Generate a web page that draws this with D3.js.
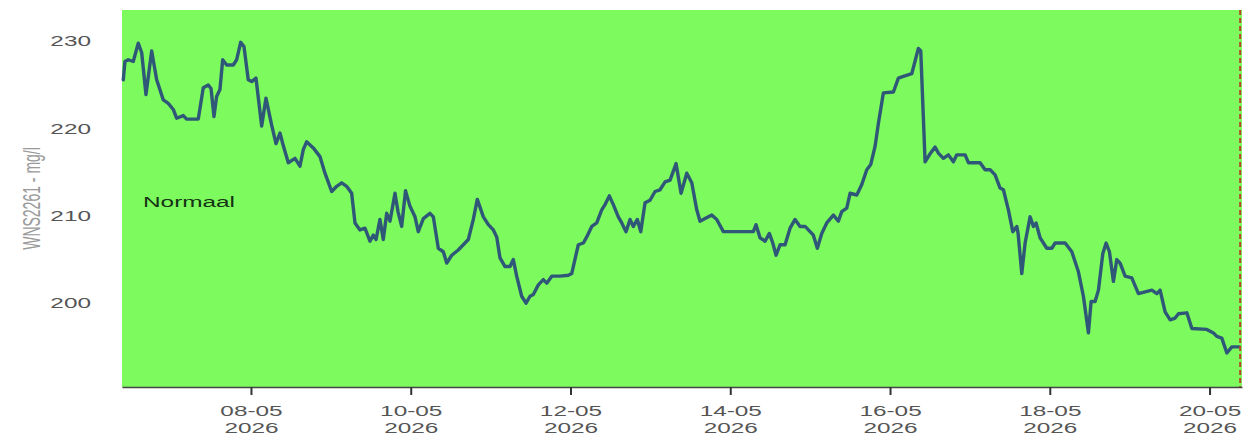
<!DOCTYPE html>
<html>
<head>
<meta charset="utf-8">
<script src="https://cdn.jsdelivr.net/npm/d3@7"></script>
<style>
  html, body { margin: 0; padding: 0; background: #ffffff; }
  svg { display: block; font-family: "Liberation Sans", Arial, sans-serif; }
</style>
</head>
<body>
<svg id="chart" width="1256" height="437"></svg>
<script>
// ---- data ----
const times = [
  "2026-05-06T09:38","2026-05-06T10:08","2026-05-06T11:08","2026-05-06T12:38","2026-05-06T14:08","2026-05-06T15:10",
  "2026-05-06T16:27","2026-05-06T18:10","2026-05-06T19:40","2026-05-06T21:39","2026-05-06T23:09","2026-05-07T00:39",
  "2026-05-07T01:40","2026-05-07T03:40","2026-05-07T04:41","2026-05-07T08:10","2026-05-07T09:40","2026-05-07T11:10",
  "2026-05-07T12:00","2026-05-07T12:53","2026-05-07T13:41","2026-05-07T14:41","2026-05-07T15:30","2026-05-07T16:42",
  "2026-05-07T18:41","2026-05-07T19:42","2026-05-07T20:54","2026-05-07T21:54","2026-05-07T23:11","2026-05-08T00:13",
  "2026-05-08T01:30","2026-05-08T03:13","2026-05-08T04:30","2026-05-08T06:13","2026-05-08T07:31","2026-05-08T08:43",
  "2026-05-08T09:32","2026-05-08T11:13","2026-05-08T13:13","2026-05-08T14:43","2026-05-08T15:43","2026-05-08T16:44",
  "2026-05-08T18:43","2026-05-08T20:44","2026-05-08T22:14","2026-05-09T00:15","2026-05-09T01:45","2026-05-09T03:15",
  "2026-05-09T04:45","2026-05-09T06:15","2026-05-09T07:15","2026-05-09T08:45","2026-05-09T10:15","2026-05-09T11:45",
  "2026-05-09T12:45","2026-05-09T13:35","2026-05-09T14:45","2026-05-09T15:45","2026-05-09T16:47","2026-05-09T17:46",
  "2026-05-09T19:16","2026-05-09T20:10","2026-05-09T21:17","2026-05-09T22:26","2026-05-09T23:47","2026-05-10T01:17",
  "2026-05-10T02:16","2026-05-10T03:47","2026-05-10T05:47","2026-05-10T06:47","2026-05-10T08:17","2026-05-10T09:47",
  "2026-05-10T10:49","2026-05-10T12:19","2026-05-10T14:17","2026-05-10T15:48","2026-05-10T17:18","2026-05-10T18:48",
  "2026-05-10T20:00","2026-05-10T21:49","2026-05-10T23:19","2026-05-11T00:49","2026-05-11T01:50","2026-05-11T02:49",
  "2026-05-11T04:20","2026-05-11T05:50","2026-05-11T06:49","2026-05-11T07:50","2026-05-11T09:20","2026-05-11T10:38",
  "2026-05-11T11:50","2026-05-11T12:50","2026-05-11T14:20","2026-05-11T15:50","2026-05-11T16:52","2026-05-11T18:22",
  "2026-05-11T20:51","2026-05-11T23:21","2026-05-12T00:22","2026-05-12T02:21","2026-05-12T03:52","2026-05-12T04:53",
  "2026-05-12T06:23","2026-05-12T07:53","2026-05-12T09:23","2026-05-12T10:23","2026-05-12T11:40","2026-05-12T12:52",
  "2026-05-12T14:22","2026-05-12T15:24","2026-05-12T16:41","2026-05-12T17:53","2026-05-12T18:53","2026-05-12T20:05",
  "2026-05-12T21:06","2026-05-12T22:24","2026-05-12T23:54","2026-05-13T01:24","2026-05-13T02:54","2026-05-13T04:25",
  "2026-05-13T05:55","2026-05-13T07:43","2026-05-13T09:13","2026-05-13T10:56","2026-05-13T12:26","2026-05-13T13:56",
  "2026-05-13T14:55","2026-05-13T16:26","2026-05-13T18:26","2026-05-13T19:56","2026-05-13T21:56","2026-05-14T06:56",
  "2026-05-14T07:45","2026-05-14T08:57","2026-05-14T10:28","2026-05-14T11:45","2026-05-14T12:46","2026-05-14T13:46",
  "2026-05-14T14:58","2026-05-14T16:28","2026-05-14T17:58","2026-05-14T19:28","2026-05-14T20:58","2026-05-14T22:29",
  "2026-05-14T23:59","2026-05-15T00:58","2026-05-15T02:10","2026-05-15T03:29","2026-05-15T04:59","2026-05-15T06:59",
  "2026-05-15T08:29","2026-05-15T09:30","2026-05-15T11:00","2026-05-15T12:00","2026-05-15T14:01","2026-05-15T15:31",
  "2026-05-15T17:01","2026-05-15T18:13","2026-05-15T19:31","2026-05-15T20:30","2026-05-15T22:00","2026-05-16T01:01",
  "2026-05-16T02:31","2026-05-16T04:01","2026-05-16T06:32","2026-05-16T08:31","2026-05-16T09:14","2026-05-16T10:32",
  "2026-05-16T11:50","2026-05-16T13:32","2026-05-16T14:32","2026-05-16T16:02","2026-05-16T17:32","2026-05-16T19:02",
  "2026-05-16T20:04","2026-05-16T22:34","2026-05-16T23:33","2026-05-17T03:04","2026-05-17T04:34","2026-05-17T06:04",
  "2026-05-17T07:34","2026-05-17T09:04","2026-05-17T10:04","2026-05-17T11:34","2026-05-17T12:53","2026-05-17T14:05",
  "2026-05-17T14:29","2026-05-17T15:35","2026-05-17T16:35","2026-05-17T18:05","2026-05-17T19:05","2026-05-17T19:53",
  "2026-05-17T21:05","2026-05-17T23:06","2026-05-18T00:37","2026-05-18T01:36","2026-05-18T04:37","2026-05-18T06:37",
  "2026-05-18T08:36","2026-05-18T10:06","2026-05-18T11:37","2026-05-18T12:25","2026-05-18T13:37","2026-05-18T14:37",
  "2026-05-18T15:56","2026-05-18T16:56","2026-05-18T17:55","2026-05-18T19:07","2026-05-18T20:08","2026-05-18T21:08",
  "2026-05-18T22:38","2026-05-19T00:38","2026-05-19T02:38","2026-05-19T04:39","2026-05-19T06:40","2026-05-19T08:10",
  "2026-05-19T09:09","2026-05-19T10:39","2026-05-19T12:10","2026-05-19T13:40","2026-05-19T14:39","2026-05-19T17:11",
  "2026-05-19T18:41","2026-05-19T23:11","2026-05-20T01:10","2026-05-20T02:11","2026-05-20T03:41","2026-05-20T05:12",
  "2026-05-20T06:42","2026-05-20T08:59"
];
const values = [
  225.6,227.7,227.9,227.7,229.8,228.7,
  223.9,228.9,225.6,223.3,222.9,222.2,
  221.2,221.5,221.1,221.1,224.7,225.0,
  224.6,221.4,223.7,224.5,227.9,227.3,
  227.3,227.9,229.9,229.4,225.6,225.4,
  225.8,220.3,223.5,220.4,218.3,219.5,
  218.3,216.1,216.6,215.7,217.6,218.5,
  217.8,216.8,214.9,212.8,213.4,213.8,
  213.4,212.6,209.2,208.4,208.6,207.1,
  207.8,207.3,209.6,207.3,210.3,209.4,
  212.6,210.5,208.8,212.9,211.1,209.9,
  208.2,209.7,210.3,209.9,206.3,205.9,
  204.6,205.5,206.1,206.7,207.3,209.6,
  211.9,209.9,209.0,208.4,207.6,205.2,
  204.2,204.2,205.0,203.1,200.8,200.0,
  200.8,201.0,202.1,202.7,202.3,203.1,
  203.1,203.2,203.4,206.7,206.9,207.6,
  208.8,209.2,210.7,211.3,212.3,211.3,
  209.9,209.2,208.2,209.6,208.8,209.6,
  208.2,211.5,211.8,212.8,213.0,213.9,
  214.1,216.0,212.6,214.9,213.8,210.7,
  209.4,209.7,210.1,209.6,208.2,208.2,
  209.0,207.5,207.1,208.0,206.9,205.5,
  206.7,206.7,208.6,209.6,208.8,208.8,
  208.2,207.8,206.3,208.0,209.2,210.1,
  209.4,210.5,210.9,212.6,212.4,213.6,
  215.3,215.9,218.0,220.6,224.1,224.2,
  225.8,226.0,226.3,229.2,228.9,216.2,
  217.0,217.9,217.2,216.6,217.0,216.2,
  217.0,217.0,216.1,216.1,215.3,215.3,
  214.7,213.2,213.0,210.7,208.2,208.8,
  208.0,203.4,206.9,209.9,208.8,209.2,
  207.5,206.3,206.3,206.9,206.9,205.9,
  203.6,200.8,196.6,200.2,200.2,201.5,
  205.7,206.9,205.9,202.5,205.0,204.6,
  203.1,202.9,201.1,201.3,201.5,201.1,
  201.5,199.0,198.1,198.3,198.8,198.9,
  197.1,197.0,196.6,196.2,196.0,194.3,
  195.0,195.0
];
const xDomain = ["2026-05-06T09:15", "2026-05-20T09:45"];
const nowTime = "2026-05-20T09:12";
const yDomain = [190.4, 233.6];
const yTicks = [200, 210, 220, 230];
const xTicks = ["2026-05-08T00:00","2026-05-10T00:00","2026-05-12T00:00","2026-05-14T00:00","2026-05-16T00:00","2026-05-18T00:00","2026-05-20T00:00"];
const yLabel = "WNS2261 - mg/l";
const zoneLabel = "Normaal";

// ---- layout ----
const W = 1256, H = 437;
const margin = { left: 122, top: 10, right: 14, bottom: 50 };
const pw = W - margin.left - margin.right;   // 1120
const ph = H - margin.top - margin.bottom;   // 377
const SX = 1.74; // horizontal text stretch seen in reference

const parse = d3.timeParse("%Y-%m-%dT%H:%M");
const data = times.map((t, i) => ({ t: parse(t), v: values[i] }));

const x = d3.scaleTime().domain(xDomain.map(parse)).range([0, pw]);
const y = d3.scaleLinear().domain(yDomain).range([ph, 0]);

const svg = d3.select("#chart");
const g = svg.append("g").attr("transform", `translate(${margin.left},${margin.top})`);

// background zone
g.append("rect").attr("x", 0).attr("y", 0).attr("width", pw).attr("height", ph)
  .attr("fill", "#7dfa5d");

// zone label
g.append("text")
  .attr("transform", `translate(21,${y(211.0)}) scale(${SX},1)`)
  .attr("font-size", 14)
  .attr("fill", "#143214")
  .text(zoneLabel);

// y axis (labels only)
const yAxis = g.append("g").call(d3.axisLeft(y).tickValues(yTicks).tickSize(0).tickFormat(d3.format("d")));
yAxis.select(".domain").remove();
yAxis.selectAll("text")
  .attr("x", -31 / SX)
  .attr("transform", `scale(${SX},1)`)
  .attr("font-size", 14)
  .attr("font-family", "Liberation Sans, Arial, sans-serif")
  .attr("fill", "#555");

// y label
svg.append("text")
  .attr("transform", `translate(40,${margin.top + ph / 2}) scale(${SX},1) rotate(-90)`)
  .attr("text-anchor", "middle")
  .attr("font-size", 14)
  .attr("fill", "#9a9a9a")
  .text(yLabel);

// line
g.append("path").datum(data)
  .attr("fill", "none")
  .attr("stroke", "#2f5878")
  .attr("stroke-width", 3.4)
  .attr("stroke-linejoin", "round")
  .attr("stroke-linecap", "round")
  .attr("d", d3.line().x(d => x(d.t)).y(d => y(d.v)));

// now line
g.append("line")
  .attr("x1", x(parse(nowTime))).attr("x2", x(parse(nowTime)))
  .attr("y1", 0).attr("y2", ph)
  .attr("stroke", "#b8452a").attr("stroke-width", 2).attr("stroke-dasharray", "5,3");

// x axis
const fmtDM = d3.timeFormat("%d-%m"), fmtY = d3.timeFormat("%Y");
const xAxis = g.append("g").attr("transform", `translate(0,${ph})`)
  .call(d3.axisBottom(x).tickValues(xTicks.map(parse)).tickSize(8).tickSizeOuter(0).tickFormat(""));
xAxis.select(".domain").attr("stroke", "#444").attr("stroke-width", 1.5);
xAxis.selectAll(".tick line").attr("stroke", "#333").attr("stroke-width", 2);
const tl = xAxis.selectAll(".tick").append("text")
  .attr("transform", `scale(${SX},1)`)
  .attr("text-anchor", "middle")
  .attr("font-size", 14)
  .attr("fill", "#555");
tl.append("tspan").attr("x", 0).attr("y", 29).text(d => fmtDM(d));
tl.append("tspan").attr("x", 0).attr("y", 46).text(d => fmtY(d));
</script>
</body>
</html>
